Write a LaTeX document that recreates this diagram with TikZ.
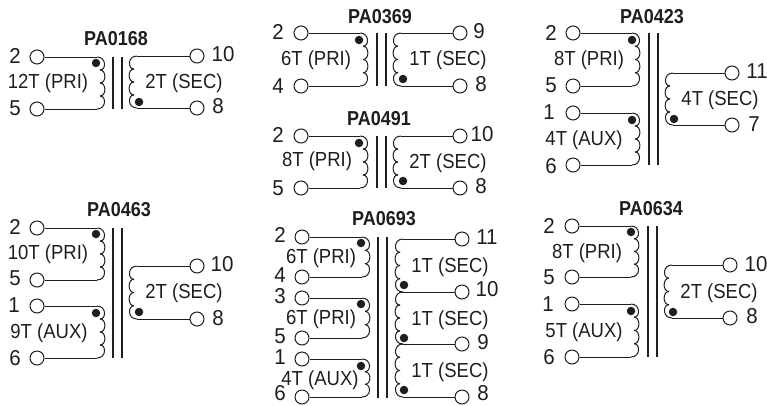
\documentclass[tikz,border=0pt]{standalone}
\usepackage{fontspec}
\usepackage{graphicx}
\setmainfont{Liberation Sans}
\definecolor{ink}{HTML}{1E1E1E}
\tikzset{
  wire/.style={draw=ink,line width=1pt},
  corebar/.style={draw=ink,line width=1.5pt},
  pinnode/.style={circle,draw=ink,fill=white,line width=1pt,minimum size=14pt,inner sep=0pt},
  dotnode/.style={circle,fill=ink,draw=none,minimum size=8.5pt,inner sep=0pt},
  titlelab/.style={text=ink,inner sep=0pt,anchor=mid,yshift=-2.6pt,font=\bfseries\fontsize{18}{20}\selectfont},
  turnlab/.style={text=ink,inner sep=0pt,anchor=mid,yshift=-2.6pt,font=\fontsize{18.5}{20}\selectfont},
  numlab/.style={text=ink,inner sep=0pt,anchor=mid,yshift=-2.4pt,font=\fontsize{20.5}{22}\selectfont},
}
% name, x, y
\newcommand{\pn}[3]{\node[pinnode] (#1) at (#2,#3) {};}
% name, x, y
\newcommand{\dt}[3]{\node[dotnode] (#1) at (#2,#3) {};}
% from pin, to pin, coil x, y1, y2, bumps, dir
\newcommand{\wind}[7]{%
  \coordinate (#1#2u) at (#3,#4);
  \coordinate (#1#2v) at (#3,#5);
  \draw[wire] (#1) -- (#1#2u);
  \draw[wire] (#1#2v) -- (#2);
  \pgfmathsetmacro\hh{(#5-#4)/#6}
  \pgfmathsetmacro\xc{#3+3*#7}
  \pgfmathsetmacro\xm{#3+9.5*#7}
  \foreach \i in {1,...,#6}{
    \pgfmathsetmacro\ya{#4+(\i-1)*\hh}
    \pgfmathsetmacro\yb{#4+\i*\hh}
    \pgfmathsetmacro\xa{\i==1 ? #3 : \xc}
    \pgfmathsetmacro\xb{\i==#6 ? #3 : \xc}
    \draw[wire] (\xa,\ya) .. controls (\xm,\ya) and (\xm,\yb) .. (\xb,\yb);
  }
}
% id, x1, x2, y1, y2
\newcommand{\corepair}[5]{%
  \coordinate (#1a) at (#2,#4); \coordinate (#1b) at (#2,#5);
  \coordinate (#1c) at (#3,#4); \coordinate (#1d) at (#3,#5);
  \draw[corebar] (#1a) -- (#1b);
  \draw[corebar] (#1c) -- (#1d);
}
\newcommand{\nl}[4]{\node[numlab] (#1) at (#2,#3) {\scalebox{1}[1.05]{#4}};}
\newcommand{\tl}[4]{\node[turnlab] (#1) at (#2,#3) {\scalebox{1}[1.1]{#4}};}
\newcommand{\hd}[4]{\node[titlelab] (#1) at (#2,#3) {\scalebox{1}[1.12]{#4}};}
\begin{document}
\begin{tikzpicture}[x=1pt,y=-1pt]
\useasboundingbox (0,0) rectangle (767,405);
% PA0168
\hd{a0}{116}{40}{PA0168}
\corepair{aco}{113}{122}{57}{109}
\pn{a2}{37}{57}\pn{a5}{37}{109}\pn{a10}{197}{56}\pn{a8}{197}{108}
\wind{a2}{a5}{97}{57}{109}{4}{1}
\wind{a10}{a8}{137}{56}{108}{4}{-1}
\dt{ad1}{96}{63}\dt{ad2}{139}{102}
\nl{an2}{15}{58}{2}\nl{an5}{15}{110}{5}\nl{an10}{223}{56}{10}\nl{an8}{218}{108}{8}
\tl{at1}{48}{83}{12T (PRI)}\tl{at2}{184}{83}{2T (SEC)}
% PA0369
\hd{b0}{380}{18}{PA0369}
\corepair{bco}{377}{386}{33}{86}
\pn{b2}{301}{33}\pn{b4}{301}{86}\pn{b9}{460}{33}\pn{b8}{460}{86}
\wind{b2}{b4}{360}{33}{86}{4}{1}
\wind{b9}{b8}{401}{33}{86}{4}{-1}
\dt{bd1}{359}{40}\dt{bd2}{403}{79}
\nl{bn2}{278}{34}{2}\nl{bn4}{278}{88}{4}\nl{bn9}{479}{33}{9}\nl{bn8}{481}{86}{8}
\tl{bt1}{316}{60}{6T (PRI)}\tl{bt2}{448}{60}{1T (SEC)}
% PA0491
\hd{c0}{379}{120}{PA0491}
\corepair{cco}{377}{386}{136}{188}
\pn{c2}{301}{136}\pn{c5}{301}{188}\pn{c10}{460}{136}\pn{c8}{460}{188}
\wind{c2}{c5}{360}{136}{188}{4}{1}
\wind{c10}{c8}{401}{136}{188}{4}{-1}
\dt{cd1}{359}{143}\dt{cd2}{403}{181}
\nl{cn2}{278}{137}{2}\nl{cn5}{278}{190}{5}\nl{cn10}{482}{136}{10}\nl{cn8}{481}{188}{8}
\tl{ct1}{317}{161}{8T (PRI)}\tl{ct2}{448}{163}{2T (SEC)}
% PA0423
\hd{d0}{652}{18}{PA0423}
\corepair{dco}{649}{658}{33}{165}
\pn{d2}{573}{33}\pn{d5}{573}{86}\pn{d1}{573}{113}\pn{d6}{573}{165}\pn{d11}{732}{73}\pn{d7}{732}{125}
\wind{d2}{d5}{632}{33}{86}{4}{1}
\wind{d1}{d6}{632}{113}{165}{4}{1}
\wind{d11}{d7}{673}{73}{125}{4}{-1}
\dt{dd1}{632}{40}\dt{dd2}{632}{120}\dt{dd3}{674}{119}
\nl{dn2}{551}{35}{2}\nl{dn5}{551}{87}{5}\nl{dn1}{549}{114}{1}\nl{dn6}{551}{168}{6}\nl{dn11}{757}{73}{11}\nl{dn7}{754}{126}{7}
\tl{dt1}{589}{60}{8T (PRI)}\tl{dt2}{584}{140}{4T (AUX)}\tl{dt3}{720}{100}{4T (SEC)}
% PA0463
\hd{e0}{119}{211}{PA0463}
\corepair{eco}{113}{122}{228}{358}
\pn{e2}{37}{228}\pn{e5}{37}{280}\pn{e1}{37}{306}\pn{e6}{37}{358}\pn{e10}{197}{266}\pn{e8}{197}{319}
\wind{e2}{e5}{97}{228}{280}{4}{1}
\wind{e1}{e6}{97}{306}{358}{4}{1}
\wind{e10}{e8}{137}{266}{319}{4}{-1}
\dt{ed1}{96}{234}\dt{ed2}{96}{313}\dt{ed3}{139}{312}
\nl{en2}{15}{229}{2}\nl{en5}{15}{280}{5}\nl{en1}{14}{307}{1}\nl{en6}{15}{360}{6}\nl{en10}{222}{266}{10}\nl{en8}{218}{320}{8}
\tl{et1}{48}{254}{10T (PRI)}\tl{et2}{49}{333}{9T (AUX)}\tl{et3}{184}{293}{2T (SEC)}
% PA0634
\hd{f0}{651}{210}{PA0634}
\corepair{fco}{648}{657}{226}{357}
\pn{f2}{572}{226}\pn{f5}{572}{277}\pn{f1}{572}{304}\pn{f6}{572}{357}\pn{f10}{730}{265}\pn{f8}{730}{318}
\wind{f2}{f5}{631}{226}{277}{4}{1}
\wind{f1}{f6}{631}{304}{357}{4}{1}
\wind{f10}{f8}{672}{265}{318}{4}{-1}
\dt{fd1}{631}{232}\dt{fd2}{631}{311}\dt{fd3}{673}{312}
\nl{fn2}{549}{228}{2}\nl{fn5}{549}{279}{5}\nl{fn1}{548}{306}{1}\nl{fn6}{549}{359}{6}\nl{fn10}{756}{266}{10}\nl{fn8}{752}{318}{8}
\tl{ft1}{587}{253}{8T (PRI)}\tl{ft2}{584}{332}{5T (AUX)}\tl{ft3}{719}{293}{2T (SEC)}
% PA0693
\hd{g0}{384}{220}{PA0693}
\corepair{gco}{378}{387}{237}{398}
\pn{g2}{302}{237}\pn{g4}{302}{277}\pn{g3}{302}{298}\pn{g5}{302}{338}\pn{g1}{302}{359}\pn{g6}{302}{397}
\pn{g11}{462}{239}\pn{g10}{462}{292}\pn{g9}{462}{344}\pn{g8}{462}{397}
\wind{g2}{g4}{362}{237}{277}{3}{1}
\wind{g3}{g5}{362}{298}{338}{3}{1}
\wind{g1}{g6}{362}{359}{397}{3}{1}
\wind{g11}{g10}{403}{239}{292}{4}{-1}
\wind{g10}{g9}{403}{292}{344}{4}{-1}
\wind{g9}{g8}{403}{344}{397}{4}{-1}
\dt{gd1}{361}{243}\dt{gd2}{361}{304}\dt{gd3}{361}{366}\dt{gd4}{404}{285}\dt{gd5}{404}{338}\dt{gd6}{404}{390}
\nl{gn2}{280}{237}{2}\nl{gn4}{280}{277}{4}\nl{gn3}{280}{298}{3}\nl{gn5}{280}{338}{5}\nl{gn1}{280}{359}{1}\nl{gn6}{280}{395.5}{6}
\nl{gn11}{487}{239}{11}\nl{gn10}{487}{291}{10}\nl{gn9}{483}{344}{9}\nl{gn8}{483}{395.5}{8}
\tl{gt1}{321}{258}{6T (PRI)}\tl{gt2}{321}{319}{6T (PRI)}\tl{gt3}{320}{380}{4T (AUX)}
\tl{gt4}{450}{267}{1T (SEC)}\tl{gt5}{450}{320}{1T (SEC)}\tl{gt6}{450}{372}{1T (SEC)}
\end{tikzpicture}
\end{document}
